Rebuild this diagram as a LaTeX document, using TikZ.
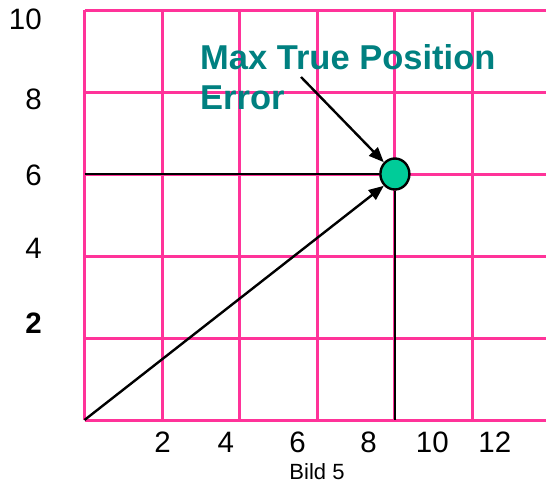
\documentclass[tikz,border=0pt]{standalone}
\usepackage{fontspec}
\setmainfont{Liberation Sans}
\usetikzlibrary{arrows.meta,shapes.geometric}
\definecolor{gridpink}{HTML}{FF3399}
\definecolor{dotgreen}{HTML}{00CC99}
\definecolor{titleteal}{HTML}{008080}
\tikzset{
  gridline/.style={gridpink, line width=3pt},
  blackline/.style={black, line width=2.4pt},
  arrowline/.style={black, line width=2.4pt, -{Triangle[length=15pt,width=12pt]}},
  axislabel/.style={font=\fontsize{29.5}{30}\selectfont, inner sep=0pt},
  title/.style={font=\fontsize{34.5}{40}\selectfont\bfseries, text=titleteal, inner sep=0pt, anchor=base west},
}
\begin{document}
\begin{tikzpicture}[x=1pt,y=-1pt]
\useasboundingbox (0,0) rectangle (546,484);
% grid
\foreach \gx in {84.5,162.1,239.7,317.3,394.9,472.5}
  \draw[gridline] (\gx,10.5) -- (\gx,420);
\foreach \gy in {10.5,92.5,174,256,338,420}
  \draw[gridline] (84.5,\gy) -- (546,\gy);
% nodes
\coordinate (origin) at (84.5,420);
\coordinate (left6) at (84.5,174);
\coordinate (bottom9) at (394.9,420);
\coordinate (labeltip) at (301,77);
\node[ellipse, draw=black, line width=2.4pt, fill=dotgreen, minimum width=29pt, minimum height=31pt, inner sep=0pt] (pt) at (394.9,174) {};
% lines
\draw[blackline] (left6) -- (pt.west);
\draw[blackline] (pt.south) -- (bottom9);
\draw[arrowline] (origin) -- (pt.south west);
\draw[arrowline] (labeltip) -- (pt.north west);
% title
\node[title] (t1) at (200,70) {Max True Position};
\node[title] (t2) at (200,110) {Error};
% y labels
\node[axislabel, anchor=base east] (y10) at (42,30) {10};
\node[axislabel, anchor=base east] (y8) at (42,110) {8};
\node[axislabel, anchor=base east] (y6) at (42,185) {6};
\node[axislabel, anchor=base east] (y4) at (42,258) {4};
\node[axislabel, anchor=base east, font=\fontsize{29.5}{30}\selectfont\bfseries] (y2) at (42,333) {2};
% x labels
\node[axislabel, anchor=base] (x2) at (162.7,452) {2};
\node[axislabel, anchor=base] (x4) at (225.8,452) {4};
\node[axislabel, anchor=base] (x6) at (297.6,452) {6};
\node[axislabel, anchor=base] (x8) at (368.6,452) {8};
\node[axislabel, anchor=base] (x10) at (432.4,452) {10};
\node[axislabel, anchor=base] (x12) at (494.8,452) {12};
\node[font=\fontsize{22}{24}\selectfont, inner sep=0pt, anchor=base] (cap) at (317,479.5) {Bild 5};
\end{tikzpicture}
\end{document}
